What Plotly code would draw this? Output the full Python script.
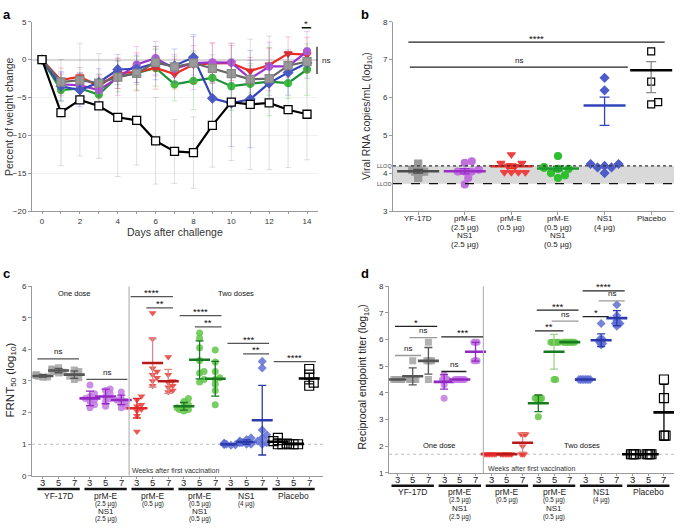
import plotly.graph_objects as go

FONT = "Liberation Sans, Arial, sans-serif"
W, H = 682, 530


def px(x):
    return x / W


def py(y):
    return 1 - y / H


# ---------------- Panel a : weight change ----------------
days = list(range(15))
wt_yf = [0, -2.95, -2.7, -3.1, -2.3, -1.8, -0.35, -0.95, -0.45, -1.15, -1.85, -2.6, -2.5, -0.8, -0.25]
wt_pe25 = [0, -3.25, -3.4, -4.0, -2.4, -0.65, 0.2, -1.2, -0.45, -0.35, -0.4, -2.5, -0.9, -0.9, 1.1]
wt_pe05 = [0, -2.7, -2.25, -3.5, -1.8, -1.6, -1.1, -1.9, -0.65, -0.5, -0.45, -1.5, -0.7, 0.8, 0.65]
wt_pen05 = [0, -4.0, -3.8, -4.6, -2.25, -1.8, -1.1, -3.25, -2.8, -2.4, -3.5, -3.2, -2.9, -3.1, -1.3]
wt_ns1 = [0, -3.5, -4.0, -3.0, -1.3, -1.2, -0.45, -0.8, 0.3, -5.1, -5.75, -5.2, -3.1, -1.7, -0.45]
wt_pl = [0, -6.97, -5.3, -6.1, -7.6, -8.0, -10.7, -12.1, -12.25, -8.66, -5.6, -5.9, -5.7, -6.6, -7.2]

sd_yf = [0, 1.0, 1.0, 1.2, 1.5, 1.5, 1.8, 1.4, 1.6, 1.8, 2.0, 1.8, 2.2, 1.5, 1.2]
sd_pe25 = [0, 1.5, 1.6, 1.7, 2.3, 2.4, 2.2, 1.9, 3.5, 2.6, 2.6, 2.4, 3.2, 1.9, 2.6]
sd_pe05 = [0, 1.6, 1.2, 1.5, 2.0, 2.5, 2.8, 2.0, 2.5, 2.6, 2.3, 1.8, 2.2, 2.2, 2.3]
sd_pen05 = [0, 1.5, 1.6, 1.5, 2.0, 2.2, 2.4, 2.2, 3.8, 2.3, 3.2, 2.7, 4.5, 2.0, 3.4]
sd_ns1 = [0, 1.9, 2.2, 1.8, 2.0, 1.8, 2.2, 2.2, 3.0, 3.5, 5.7, 6.4, 2.5, 3.0, 2.0]
sd_pl = [0, 7.0, 7.4, 6.9, 7.8, 5.9, 5.7, 4.2, 4.7, 5.5, 7.7, 8.6, 8.8, 7.6, 6.0]

# ---------------- Panel b : viral RNA ----------------
b_cats = list(range(6))
b_labels = [["YF-17D"], ["prM-E", "(2.5 µg)", "NS1", "(2.5 µg)"], ["prM-E", "(0.5 µg)"],
            ["prM-E", "(0.5 µg)", "NS1", "(0.5 µg)"], ["NS1", "(4 µg)"], ["Placebo"]]
b_vals = [
    [4.26, 4.1, 4.05, 4.05, 4.0, 3.88, 4.1, 4.05],
    [4.28, 4.32, 4.1, 4.05, 4.05, 3.88, 3.71, 4.05],
    [4.5, 4.27, 4.27, 4.19, 4.2, 4.03, 4.03, 4.03, 4.03],
    [4.46, 4.17, 4.15, 4.12, 4.01, 3.95, 3.88, 4.12],
    [6.52, 6.19, 4.25, 4.25, 4.2, 4.16, 4.16, 4.01],
    [7.22, 6.42, 5.82, 5.88],
]
b_mean = [4.06, 4.06, 4.19, 4.13, 5.79, 6.72]
b_err_up = [0.05, 0.07, 0.06, 0.06, 0.22, 0.23]
b_err_dn = [0.05, 0.07, 0.06, 0.06, 0.52, 0.59]
lloq, llod = 4.2, 3.73
b_sig = [(-0.21, 5.29, 7.46, "****"), (-0.18, 4.5, 6.8, "ns")]

# ---------------- Panel c / d shared ----------------
weeks = ["3", "5", "7"]
grp_labels = [["YF-17D"], ["prM-E", "(2.5 µg)", "NS1", "(2.5 µg)"], ["prM-E", "(0.5 µg)"],
              ["prM-E", "(0.5 µg)", "NS1", "(0.5 µg)"], ["NS1", "(4 µg)"], ["Placebo"]]

# ---------------- Panel c : FRNT50 ----------------
c_vals = [
    [[3.12, 3.15, 3.18, 3.2, 3.13, 3.17], [3.25, 3.3, 3.35, 3.42, 3.38, 3.28], [3.05, 3.15, 3.2, 3.3, 3.35, 3.1]],
    [[2.87, 2.6, 2.5, 2.45, 2.35, 2.25, 2.15, 2.4], [2.75, 2.7, 2.5, 2.45, 2.35, 2.2, 2.6], [2.65, 2.45, 2.4, 2.3, 2.2, 2.15, 2.35]],
    [[2.52, 2.4, 2.25, 2.2, 2.1, 2.05, 1.9, 1.4], [5.15, 4.33, 3.4, 3.3, 3.2, 3.1, 3.0, 2.85], [3.76, 3.2, 3.0, 2.95, 2.85, 2.8, 2.7, 2.65]],
    [[2.45, 2.35, 2.25, 2.2, 2.1, 2.05, 2.1, 2.15], [4.52, 4.35, 4.05, 3.65, 3.3, 3.25, 3.05, 2.97], [3.98, 3.6, 3.3, 3.05, 2.9, 2.7, 2.25, 3.1]],
    [[1.0, 0.97, 1.03, 1.0, 0.98, 1.02, 1.0, 1.0], [1.2, 1.15, 1.1, 1.05, 1.0, 1.05, 1.08, 1.0], [3.62, 3.41, 1.45, 1.3, 1.2, 1.1, 1.05, 1.0]],
    [[1.2, 1.1, 1.0, 1.0], [1.0, 1.0, 1.0, 1.02], [3.38, 3.2, 2.95, 2.85]],
]
c_mean = [[3.16, 3.33, 3.2], [2.45, 2.51, 2.4], [2.14, 3.57, 2.99], [2.2, 3.67, 3.07], [1.0, 1.07, 1.76], [1.08, 1.01, 3.08]]
c_err = [[0.04, 0.07, 0.12], [0.23, 0.23, 0.15], [0.31, 0.76, 0.38], [0.12, 0.6, 0.55], [0.02, 0.07, 1.1], [0.09, 0.02, 0.17]]
c_sig = [(-0.36, 2.3, 3.7, "ns"), (2.77, 5.39, 3.05, "ns"), (5.6, 8.3, 5.67, "****"), (6.6, 8.3, 5.31, "**"),
         (8.73, 11.4, 5.07, "****"), (9.7, 11.4, 4.71, "**"), (11.78, 14.44, 4.19, "***"),
         (12.78, 14.44, 3.86, "**"), (14.74, 17.43, 3.61, "****")]

# ---------------- Panel d : endpoint titer ----------------
d_vals = [
    [[4.5] * 6, [5.2, 4.5, 4.5, 4.5, 4.5, 4.5], [5.9, 5.2, 5.2, 5.2, 5.2, 4.5]],
    [[4.68, 4.5, 4.5, 4.5, 4.5, 4.3, 3.8], [4.5] * 7, [5.9, 5.9, 5.9, 5.2, 5.2, 5.2]],
    [[1.7] * 8, [1.7] * 8, [2.45, 2.45, 2.45, 2.45, 1.7, 1.7, 1.7, 2.0]],
    [[3.8, 3.8, 3.8, 3.8, 3.7, 3.8, 3.1, 3.7], [5.9, 5.9, 5.9, 5.9, 5.9, 5.9, 4.5, 4.5], [5.9] * 8],
    [[4.5] * 8, [6.6, 6.0, 6.0, 6.0, 5.9, 5.9, 5.8, 5.85], [7.3, 6.9, 6.7, 6.6, 6.6, 6.6, 6.6, 6.5]],
    [[1.7] * 4, [1.7] * 4, [4.5, 3.8, 2.4, 2.4]],
]
d_mean = [[4.5, 4.62, 5.2], [4.41, 4.5, 5.54], [1.7, 1.7, 2.13], [3.61, 5.54, 5.9], [4.5, 5.97, 6.8], [1.7, 1.7, 3.27]]
d_err = [[0.0, 0.32, 0.5], [0.27, 0.0, 0.35], [0.0, 0.0, 0.35], [0.31, 0.65, 0.0], [0.0, 0.24, 0.28], [0.0, 0.0, 1.05]]
d_sig = [(-0.13, 2.56, 6.49, "*", "#222"), (0.79, 2.56, 6.07, "ns", "#999"), (-0.13, 1.54, 5.4, "ns", "#999"),
         (2.82, 4.42, 4.8, "ns", "#222"), (2.82, 5.48, 6.1, "***", "#222"), (8.79, 10.6, 6.32, "**", "#222"),
         (9.86, 11.56, 6.69, "ns", "#999"), (8.9, 11.56, 7.1, "***", "#222"), (11.82, 13.48, 6.86, "*", "#222"),
         (12.84, 14.5, 7.45, "ns", "#999"), (11.82, 14.5, 7.82, "****", "#222")]

# ---------------- styles ----------------
pt_col = ["#a3a3a3", "#c27ae0", "#ea3a34", "#62c548", "#5e6fd2", "#000000"]
mean_col = ["#555555", "#9327c2", "#b81818", "#177a20", "#2a3aaa", "#000000"]
symb = ["square", "circle", "triangle-down", "circle", "diamond", "square-open"]

# layout geometry (pixels)
A = dict(x0=32, x1=318, y0=18, y1=211, xr=(-0.53, 14.58), yr=(-20, 5))
B = dict(x0=393, x1=674, y0=18, y1=211, xr=(-0.54, 5.49), yr=(3, 8))
C = dict(x0=32, x1=323, y0=287, y1=480, xr=(-0.7, 17.88), yr=(0, 6))
D = dict(x0=389, x1=674, y0=287, y1=477, xr=(-0.51, 17.64), yr=(1, 8))


def units(P):
    ux = (P["x1"] - P["x0"]) / (P["xr"][1] - P["xr"][0])
    uy = (P["y1"] - P["y0"]) / (P["yr"][1] - P["yr"][0])
    return ux, uy


def swarm(vals, ux, uy, diam, maxoff):
    idx = sorted(range(len(vals)), key=lambda k: vals[k])
    step = max(diam / 2, 0.5)
    cands = [0.0]
    n = 1
    while n * step <= maxoff:
        cands += [n * step, -n * step]
        n += 1
    placed = []
    offs = [0.0] * len(vals)
    for k in idx:
        y = vals[k] * uy
        best = cands[-1]
        for c in cands:
            if all((c - a) ** 2 + (y - b) ** 2 >= diam ** 2 for a, b in placed):
                best = c
                break
        placed.append((best, y))
        offs[k] = best / ux
    return offs


fig = go.Figure()

# ---------- Panel a traces ----------
a_series = [
    (wt_pen05, sd_pen05, "#1f8f3a", "circle", "#36c436", "#36c436", "rgba(60,190,60,0.28)"),
    (wt_pe05, sd_pe05, "#ee2a24", "triangle-down", "#ee2a24", "#ee2a24", "rgba(240,60,60,0.28)"),
    (wt_pe25, sd_pe25, "#9933cc", "circle", "#b45ad8", "#b45ad8", "rgba(190,80,220,0.28)"),
    (wt_ns1, sd_ns1, "#3344bb", "diamond", "#4c5cc8", "#4c5cc8", "rgba(70,90,210,0.28)"),
    (wt_yf, sd_yf, "#666666", "square", "#9a9a9a", "#8a8a8a", "rgba(120,120,120,0.25)"),
    (wt_pl, sd_pl, "#000000", "square", "#ffffff", "#000000", "rgba(0,0,0,0.13)"),
]
for vals, sd, lc, sym, mc, mlc, ec in a_series:
    fig.add_trace(go.Scatter(
        x=days, y=vals, mode="lines+markers", xaxis="x", yaxis="y",
        line=dict(color=lc, width=2.2),
        marker=dict(symbol=sym, size=8 if sym == "square" else 7, color=mc, line=dict(color=mlc, width=1.3)),
        error_y=dict(type="data", array=sd, color=ec, thickness=1, width=3),
        showlegend=False, hoverinfo="skip"))

# ---------- Panel b traces ----------
ux, uy = units(B)
b_pt = ["#9a9a9a", "#c070dc", "#ee4040", "#2fbf2f", "#4c5cc8", "#000000"]
b_mc = ["#4d4d4d", "#9a2fc8", "#ee2a24", "#1a9a2a", "#3344bb", "#000000"]
for g in b_cats:
    vals = b_vals[g]
    offs = swarm(vals, ux, uy, 7.0 if g != 0 else 3.0, 14)
    fig.add_trace(go.Scatter(
        x=[g + o for o in offs], y=vals, mode="markers", xaxis="x2", yaxis="y2",
        marker=dict(symbol=symb[g], size=7 if g != 4 else 6.5,
                    color=b_pt[g] if g != 5 else "#000", line=dict(color=b_pt[g], width=1.2)),
        showlegend=False, hoverinfo="skip"))
    errc = b_mc[g] if g not in (5,) else "#888888"
    fig.add_trace(go.Scatter(
        x=[g], y=[b_mean[g]], mode="markers", xaxis="x2", yaxis="y2",
        marker=dict(symbol="line-ew", size=30, line=dict(color=b_mc[g], width=2.5)),
        error_y=dict(type="data", symmetric=False, array=[b_err_up[g]], arrayminus=[b_err_dn[g]],
                     color=errc, thickness=1.3, width=5),
        showlegend=False, hoverinfo="skip"))


# ---------- Panel c / d traces ----------
def add_titer(P, xa, ya, vals_all, means, errs, diam, size):
    ux, uy = units(P)
    for g in range(6):
        for k in range(3):
            xpos = g * 3 + k
            vals = vals_all[g][k]
            offs = swarm(vals, ux, uy, diam, 7)
            sym = symb[g]
            fig.add_trace(go.Scatter(
                x=[xpos + o for o in offs], y=vals, mode="markers", xaxis=xa, yaxis=ya,
                marker=dict(symbol=sym, size=size + (2 if g == 5 else 0),
                            color=pt_col[g], opacity=1.0 if g == 5 else 0.85,
                            line=dict(color=pt_col[g], width=1.2 if g == 5 else 0)),
                showlegend=False, hoverinfo="skip"))
            mc = mean_col[g]
            if g == 2 and k == 0:
                mc = "#e02626"
            ec = mc
            if g == 2 and k > 0:
                ec = "#d98a8a"
            if g == 3 and k == 1 and xa == "x4":
                ec = "#9fcf8f"
            fig.add_trace(go.Scatter(
                x=[xpos], y=[means[g][k]], mode="markers", xaxis=xa, yaxis=ya,
                marker=dict(symbol="line-ew", size=15, line=dict(color=mc, width=2.6)),
                error_y=dict(type="data", array=[errs[g][k]], color=ec, thickness=1.3, width=4),
                showlegend=False, hoverinfo="skip"))


add_titer(C, "x3", "y3", c_vals, c_mean, c_err, 4.5, 7)
add_titer(D, "x4", "y4", d_vals, d_mean, d_err, 1.6, 7)

# ---------- axes ----------
tickfont = dict(family=FONT, size=8, color="#333")


def xdom(P):
    return [px(P["x0"]), px(P["x1"])]


def ydom(P):
    return [py(P["y1"]), py(P["y0"])]


axline = dict(showline=True, linecolor="#9a9a9a", linewidth=1, ticks="outside", ticklen=3,
              tickcolor="#9a9a9a", tickfont=tickfont, zeroline=False, showgrid=False, fixedrange=True)

layout = dict(
    width=W, height=H, margin=dict(l=0, r=0, t=0, b=0), autosize=False,
    paper_bgcolor="white", plot_bgcolor="rgba(0,0,0,0)",
    font=dict(family=FONT, color="#222"), showlegend=False,
    xaxis=dict(axline, domain=xdom(A), range=list(A["xr"]), anchor="y",
               tickvals=list(range(0, 15, 2)), ticklen=2,
               minor=dict(tickvals=list(range(1, 15, 2)), ticks="outside", ticklen=2, tickcolor="#9a9a9a")),
    yaxis=dict(axline, domain=ydom(A), range=list(A["yr"]), anchor="x",
               tickvals=[-20, -15, -10, -5, 0, 5], showgrid=True, gridcolor="#f1f1f1",
               zeroline=True, zerolinecolor="#d9d9d9", zerolinewidth=2),
    xaxis2=dict(axline, domain=xdom(B), range=list(B["xr"]), anchor="y2",
                tickvals=b_cats, showticklabels=False),
    yaxis2=dict(axline, domain=ydom(B), range=list(B["yr"]), anchor="x2", tickvals=[3, 4, 5, 6, 7, 8]),
    xaxis3=dict(axline, domain=xdom(C), range=list(C["xr"]), anchor="y3",
                tickvals=list(range(18)), showticklabels=False, ticklen=2),
    yaxis3=dict(axline, domain=ydom(C), range=list(C["yr"]), anchor="x3", tickvals=list(range(7))),
    xaxis4=dict(axline, domain=xdom(D), range=list(D["xr"]), anchor="y4",
                tickvals=list(range(18)), showticklabels=False, ticklen=2),
    yaxis4=dict(axline, domain=ydom(D), range=list(D["yr"]), anchor="x4", tickvals=list(range(1, 9))),
)
fig.update_layout(**layout)

shapes = []
ann = []


def text(x, y, t, size=8, xref="paper", yref="paper", color="#222", angle=0, xanchor="center",
         yanchor="middle", yshift=0, bold=False):
    ann.append(dict(x=x, y=y, text=f"<b>{t}</b>" if bold else t, xref=xref, yref=yref, showarrow=False,
                    font=dict(family=FONT, size=size, color=color), textangle=angle,
                    xanchor=xanchor, yanchor=yanchor, yshift=yshift))


# panel letters
text(px(1), py(1), "a", 13, xanchor="left", yanchor="top", bold=True, color="#000")
text(px(359), py(1), "b", 13, xanchor="left", yanchor="top", bold=True, color="#000")
text(px(1), py(264), "c", 13, xanchor="left", yanchor="top", bold=True, color="#000")
text(px(359), py(264), "d", 13, xanchor="left", yanchor="top", bold=True, color="#000")

# axis titles
text(px(9), py(115), "Percent of weight change", 10.5, angle=-90, color="#333")
text(px(175), py(232), "Days after challenge", 10.5, color="#333")
text(px(367), py(114), "Viral RNA copies/mL (log<sub>10</sub>)", 10.5, angle=-90, color="#333")
text(px(11), py(383), "FRNT<sub>50</sub> (log<sub>10</sub>)", 11.5, angle=-90, color="#222")
text(px(363), py(380), "Reciprocal endpoint titer (log<sub>10</sub>)", 10.5, angle=-90, color="#222")


def sig(xa, ya, x0, x1, y, lab, color="#333"):
    shapes.append(dict(type="line", xref=xa, yref=ya, x0=x0, x1=x1, y0=y, y1=y,
                       line=dict(color=color, width=1.3)))
    text((x0 + x1) / 2, y, lab, 9.5 if lab != "ns" else 8, xref=xa, yref=ya, color="#111",
         yshift=7 if lab == "ns" else 4)


# panel a significance
shapes.append(dict(type="line", xref="x", yref="y", x0=13.72, x1=14.22, y0=4.2, y1=4.2,
                   line=dict(color="#111", width=1.3)))
text(13.97, 4.2, "*", 9.5, xref="x", yref="y", yshift=4)
shapes.append(dict(type="line", xref="paper", yref="y", x0=px(317), x1=px(317), y0=1.7, y1=-1.9,
                   line=dict(color="#111", width=1.2)))
text(px(320), -0.15, "ns", 8, yref="y", xanchor="left")

# panel b decorations
shapes.append(dict(type="rect", xref="x2 domain", yref="y2", x0=0, x1=1, y0=llod, y1=lloq,
                   fillcolor="#d9d9d9", line=dict(width=0), layer="below"))
shapes.append(dict(type="line", xref="x2 domain", yref="y2", x0=0, x1=1, y0=lloq, y1=lloq,
                   line=dict(color="#333", width=1.1, dash="dot")))
shapes.append(dict(type="line", xref="x2 domain", yref="y2", x0=0, x1=1, y0=llod, y1=llod,
                   line=dict(color="#111", width=1.2, dash="dash")))
text(px(384), lloq, "LLOQ", 5.5, yref="y2", color="#444")
text(px(384), llod, "LLOD", 5.5, yref="y2", color="#444")
for x0, x1, y, lab in b_sig:
    sig("x2", "y2", x0, x1, y, lab, "#222")
b_rows = [218, 227, 236, 245]
for g, lines in enumerate(b_labels):
    for r, t in enumerate(lines):
        text(g, py(b_rows[r]), t, 8, xref="x2", color="#222")


# panel c / d decorations
def group_deco(xa, ya, tick_y, under_y, rows, ymin, ymax, dash_y, one_xy, two_xy, weeks_xy):
    for i in range(18):
        text(i, py(tick_y), weeks[i % 3], 9.5, xref=xa, color="#222")
    for g, lines in enumerate(grp_labels):
        shapes.append(dict(type="line", xref=xa, yref="paper", x0=g * 3 - 0.35, x1=g * 3 + 2.35,
                           y0=py(under_y), y1=py(under_y), line=dict(color="#111", width=2.5)))
        for r, t in enumerate(lines):
            small = t.startswith("(")
            text(g * 3 + 1, py(rows[r]), t, 6.3 if small else (8.5 if r == 0 else 8), xref=xa, color="#222")
    shapes.append(dict(type="line", xref=xa, yref=ya, x0=5.5, x1=5.5, y0=ymin, y1=ymax,
                       line=dict(color="#b5b5b5", width=1.2)))
    shapes.append(dict(type="line", xref=xa + " domain", yref=ya, x0=0, x1=1, y0=dash_y, y1=dash_y,
                       line=dict(color="#bdbdbd", width=1, dash="3px,3px"), layer="below"))
    text(one_xy[0], one_xy[1], "One dose", 7.5, xref=xa, yref=ya, color="#111")
    text(two_xy[0], two_xy[1], "Two doses", 7.5, xref=xa, yref=ya, color="#111")
    text(weeks_xy[0], weeks_xy[1], "Weeks after first vaccination", 7, xref=xa, yref=ya, color="#333")


group_deco("x3", "y3", 487, 493.5, [500.5, 508.3, 516.3, 524], 0, 6, 1.0, (2.02, 5.76), (12.3, 5.76), (8.52, 0.18))
group_deco("x4", "y4", 483.5, 490, [496.5, 504.5, 513, 522], 1, 8, 1.7, (2.71, 2.04), (11.77, 2.04), (8.58, 1.18))

for x0, x1, y, lab in c_sig:
    sig("x3", "y3", x0, x1, y, lab, "#555")
for x0, x1, y, lab, col in d_sig:
    sig("x4", "y4", x0, x1, y, lab, col)

fig.update_layout(shapes=shapes, annotations=ann)
fig.write_html("out.html", config={"displayModeBar": False},
               post_script="document.body.style.margin='0';document.body.style.overflow='hidden';")
